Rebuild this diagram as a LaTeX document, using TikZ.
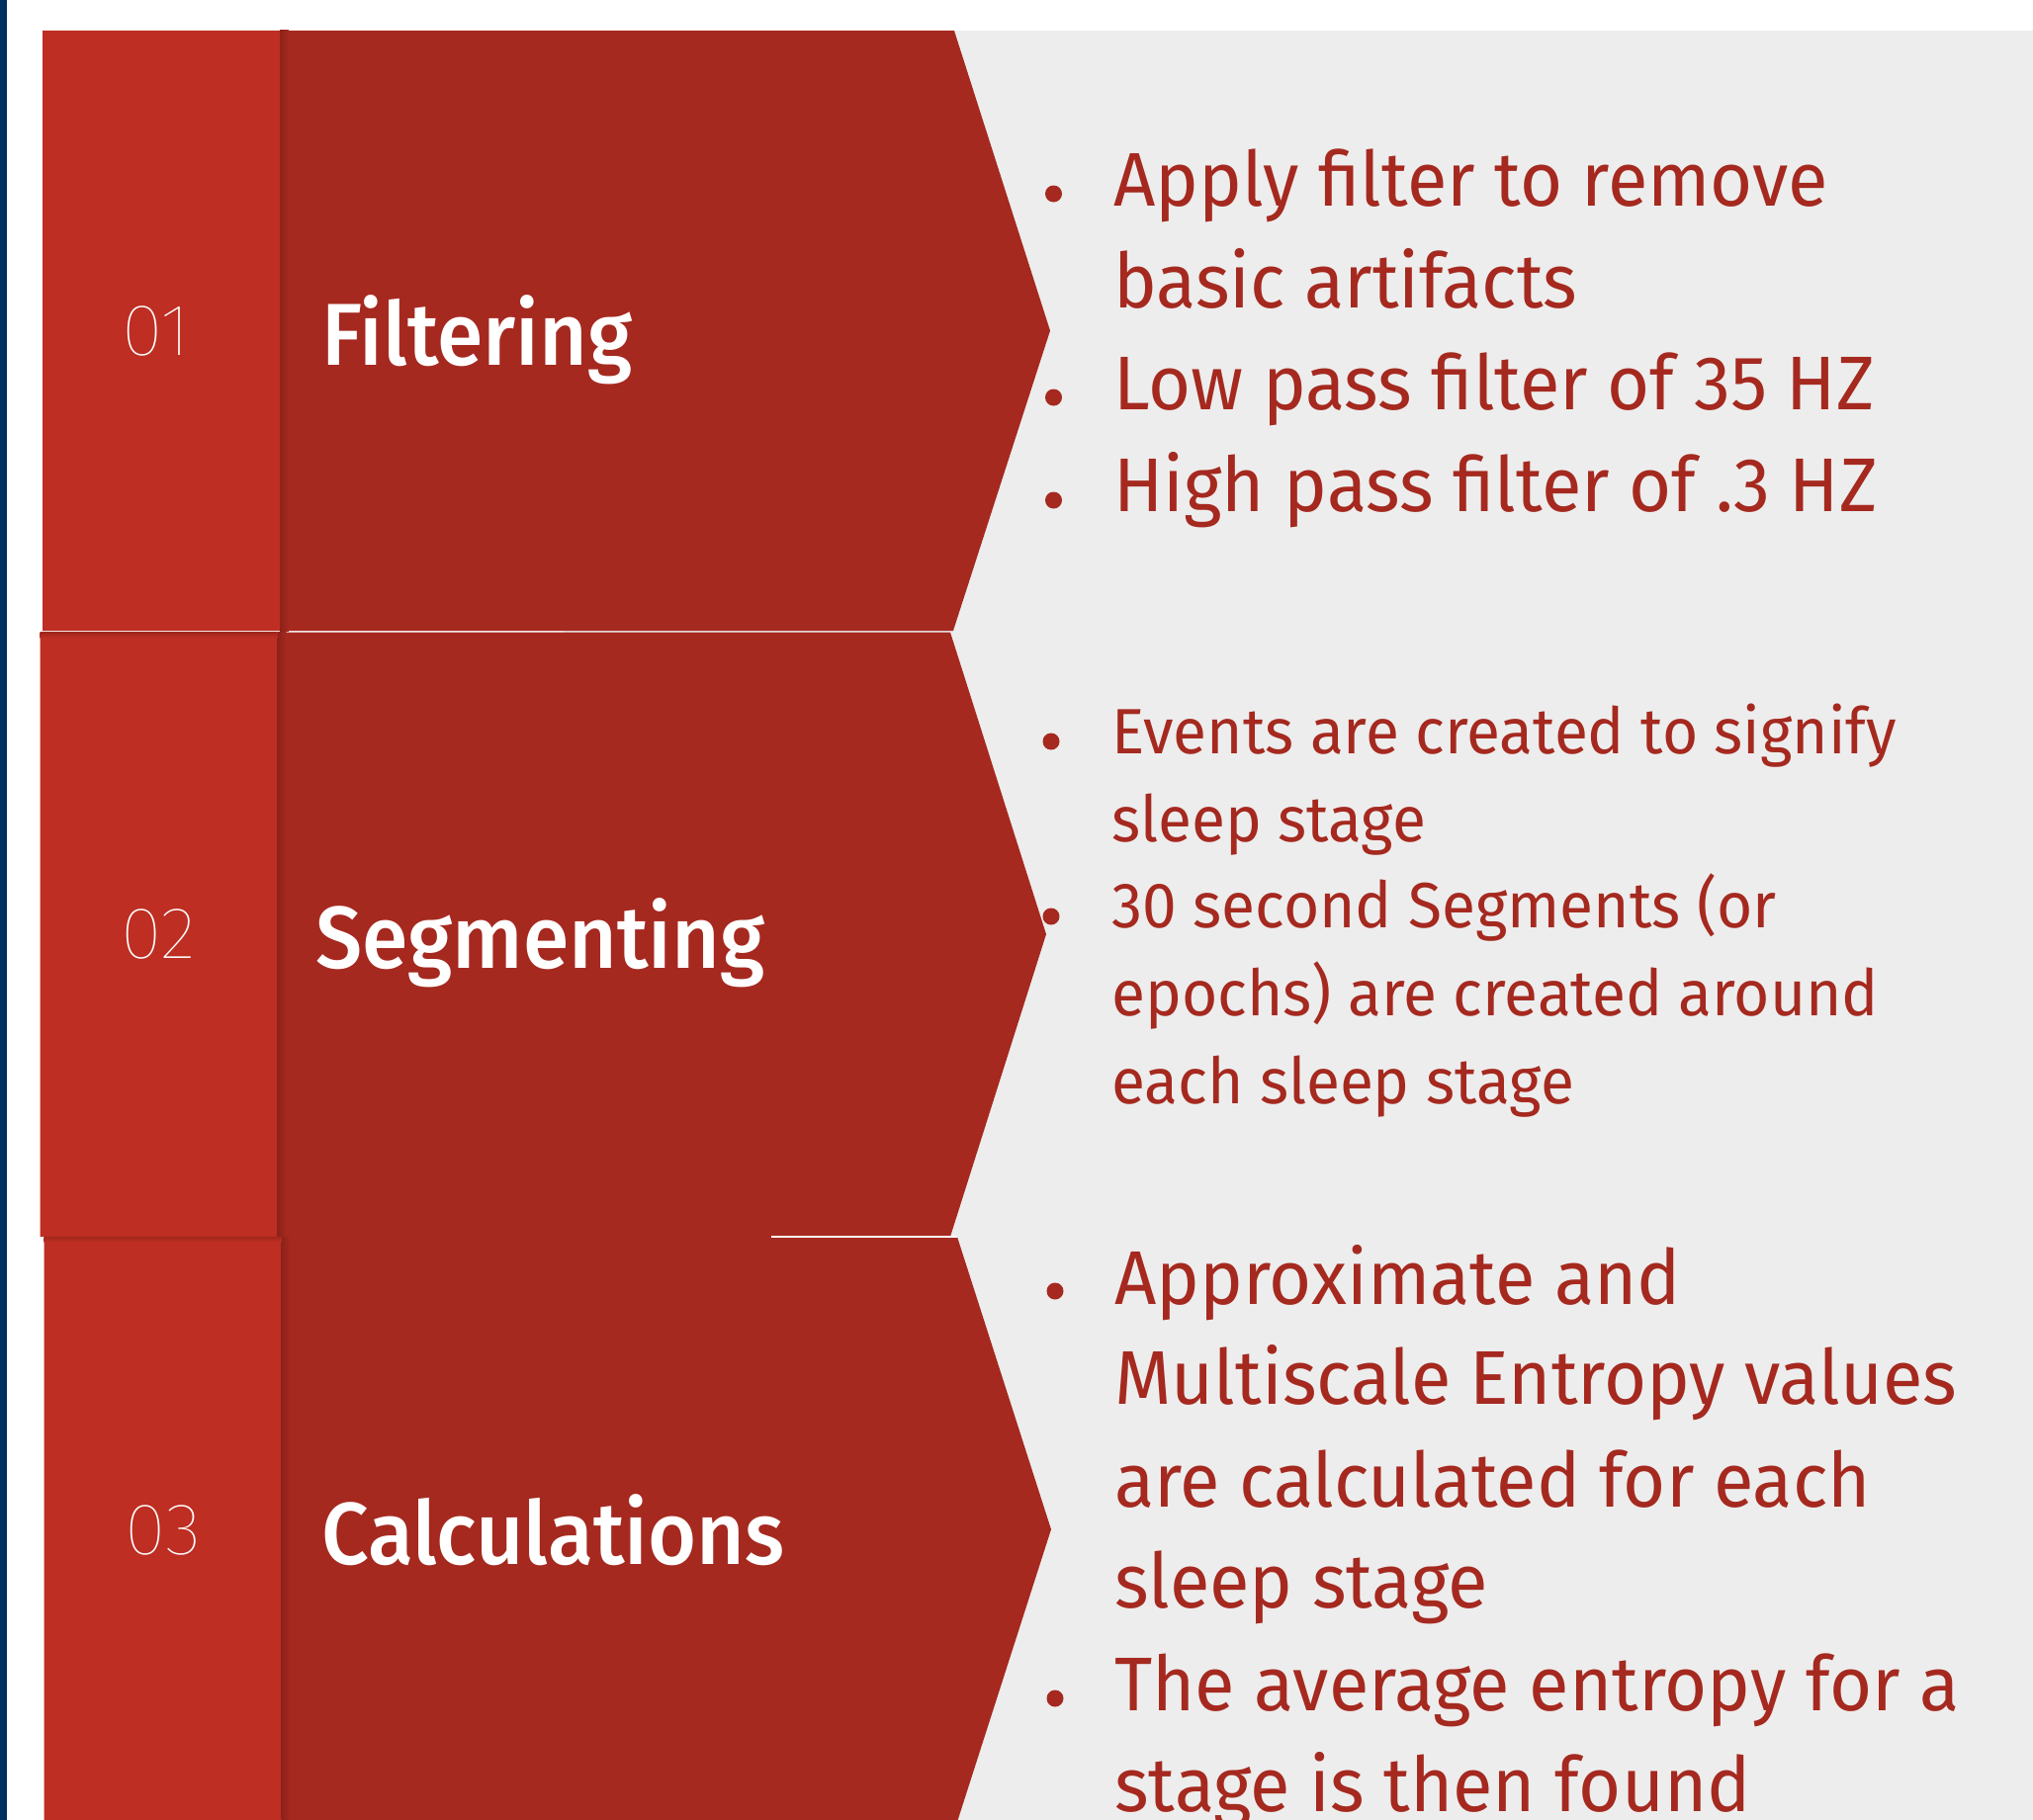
\documentclass[tikz,border=0pt]{standalone}
\usepackage{fontspec}
\setmainfont{Fira Sans}[FakeStretch=0.96]
\newfontfamily\numfont{Fira Sans Thin}[FakeStretch=1.03]
\newfontfamily\labfont{Fira Sans Medium}[FakeStretch=0.945]
\definecolor{lightred}{RGB}{190,46,34}
\definecolor{darkred}{RGB}{165,41,31}
\definecolor{shadowred}{RGB}{140,34,26}
\definecolor{bggray}{RGB}{237,237,237}
\definecolor{navy}{RGB}{0,48,96}
\begin{document}
\begin{tikzpicture}[x=0.5pt,y=-0.5pt,
  bigtxt/.style={anchor=base west, inner sep=0pt, text=darkred, font=\fontsize{38.5}{40}\selectfont},
  smalltxt/.style={anchor=base west, inner sep=0pt, text=darkred, font=\fontsize{32.4}{34}\selectfont},
  steplabel/.style={anchor=base west, inner sep=0pt, text=white, font=\labfont\fontsize{44.5}{46}\selectfont},
  numtxt/.style={anchor=center, inner sep=0pt, text=white, font=\numfont\fontsize{37}{38}\selectfont},
  bul/.style={circle, fill=darkred, inner sep=0pt, minimum size=8.5pt}]
\useasboundingbox (0,0) rectangle (2056,1841);
\fill[white] (0,0) rectangle (2056,1841);
\fill[bggray] (570,31) rectangle (2056,1841);
\fill[navy] (0,0) rectangle (6.5,1841);

% row 1
\fill[darkred] (43,31) -- (965,31) -- (1062,334.5) -- (964,638) -- (43,638) -- cycle;
\fill[lightred] (43,31) rectangle (283,638);
\shade[left color=shadowred, right color=darkred] (283,31) rectangle (292,638);
% row 2
\fill[darkred] (40.6,639.5) -- (961,639.5) -- (1058,945) -- (961,1251) -- (40.6,1251) -- cycle;
\fill[lightred] (40.6,639.5) rectangle (280.6,1251);
\shade[left color=shadowred, right color=darkred] (280.6,639.5) rectangle (289.6,1251);
\shade[top color=shadowred!60!lightred, bottom color=lightred] (40.6,639.5) rectangle (280.6,645);
% row 3
\fill[darkred] (44.6,1251) -- (968,1251) -- (1063,1547) -- (968,1843) -- (44.6,1843) -- cycle;
\fill[lightred] (44.6,1251) rectangle (284.6,1843);
\shade[left color=shadowred, right color=darkred] (284.6,1251) rectangle (293.6,1843);
\shade[top color=shadowred!60!lightred, bottom color=lightred] (44.6,1251) rectangle (284.6,1256);
\draw[white, line width=1pt] (780,1251) -- (968,1251);

% numbers and titles
\node[numtxt] (n1) at (157.5,334.5) {01};
\node[numtxt] (n2) at (160,945) {02};
\node[numtxt] (n3) at (165,1548) {03};
\node[steplabel] (t1) at (325,369) {Filtering};
\node[steplabel] (t2) at (319,979) {Segmenting};
\node[steplabel] (t3) at (325,1582) {Calculations};

% row 1 text
\node[bul] (b11) at (1065.5,196) {};
\node[bul] (b12) at (1065.5,402) {};
\node[bul] (b13) at (1065.5,506) {};
\node[bigtxt] (r11) at (1126,208) {Apply filter to remove};
\node[bigtxt] (r12) at (1126,311) {basic artifacts};
\node[bigtxt] (r13) at (1126,414) {Low pass filter of 35 HZ};
\node[bigtxt] (r14) at (1126,517) {High pass filter of .3 HZ};

% row 2 text
\node[bul] (b21) at (1063,750) {};
\node[bul] (b22) at (1063,927) {};
\node[smalltxt] (r21) at (1124,762) {Events are created to signify};
\node[smalltxt] (r22) at (1124,851) {sleep stage};
\node[smalltxt] (r23) at (1124,938) {30 second Segments (or};
\node[smalltxt] (r24) at (1124,1027) {epochs) are created around};
\node[smalltxt] (r25) at (1124,1116) {each sleep stage};

% row 3 text
\node[bul] (b31) at (1067,1306) {};
\node[bul] (b32) at (1067,1718) {};
\node[bigtxt] (r31) at (1127,1319) {Approximate and};
\node[bigtxt] (r32) at (1127,1420) {Multiscale Entropy values};
\node[bigtxt] (r33) at (1127,1524) {are calculated for each};
\node[bigtxt] (r34) at (1127,1626) {sleep stage};
\node[bigtxt] (r35) at (1127,1730) {The average entropy for a};
\node[bigtxt] (r36) at (1127,1832) {stage is then found};
\end{tikzpicture}
\end{document}
